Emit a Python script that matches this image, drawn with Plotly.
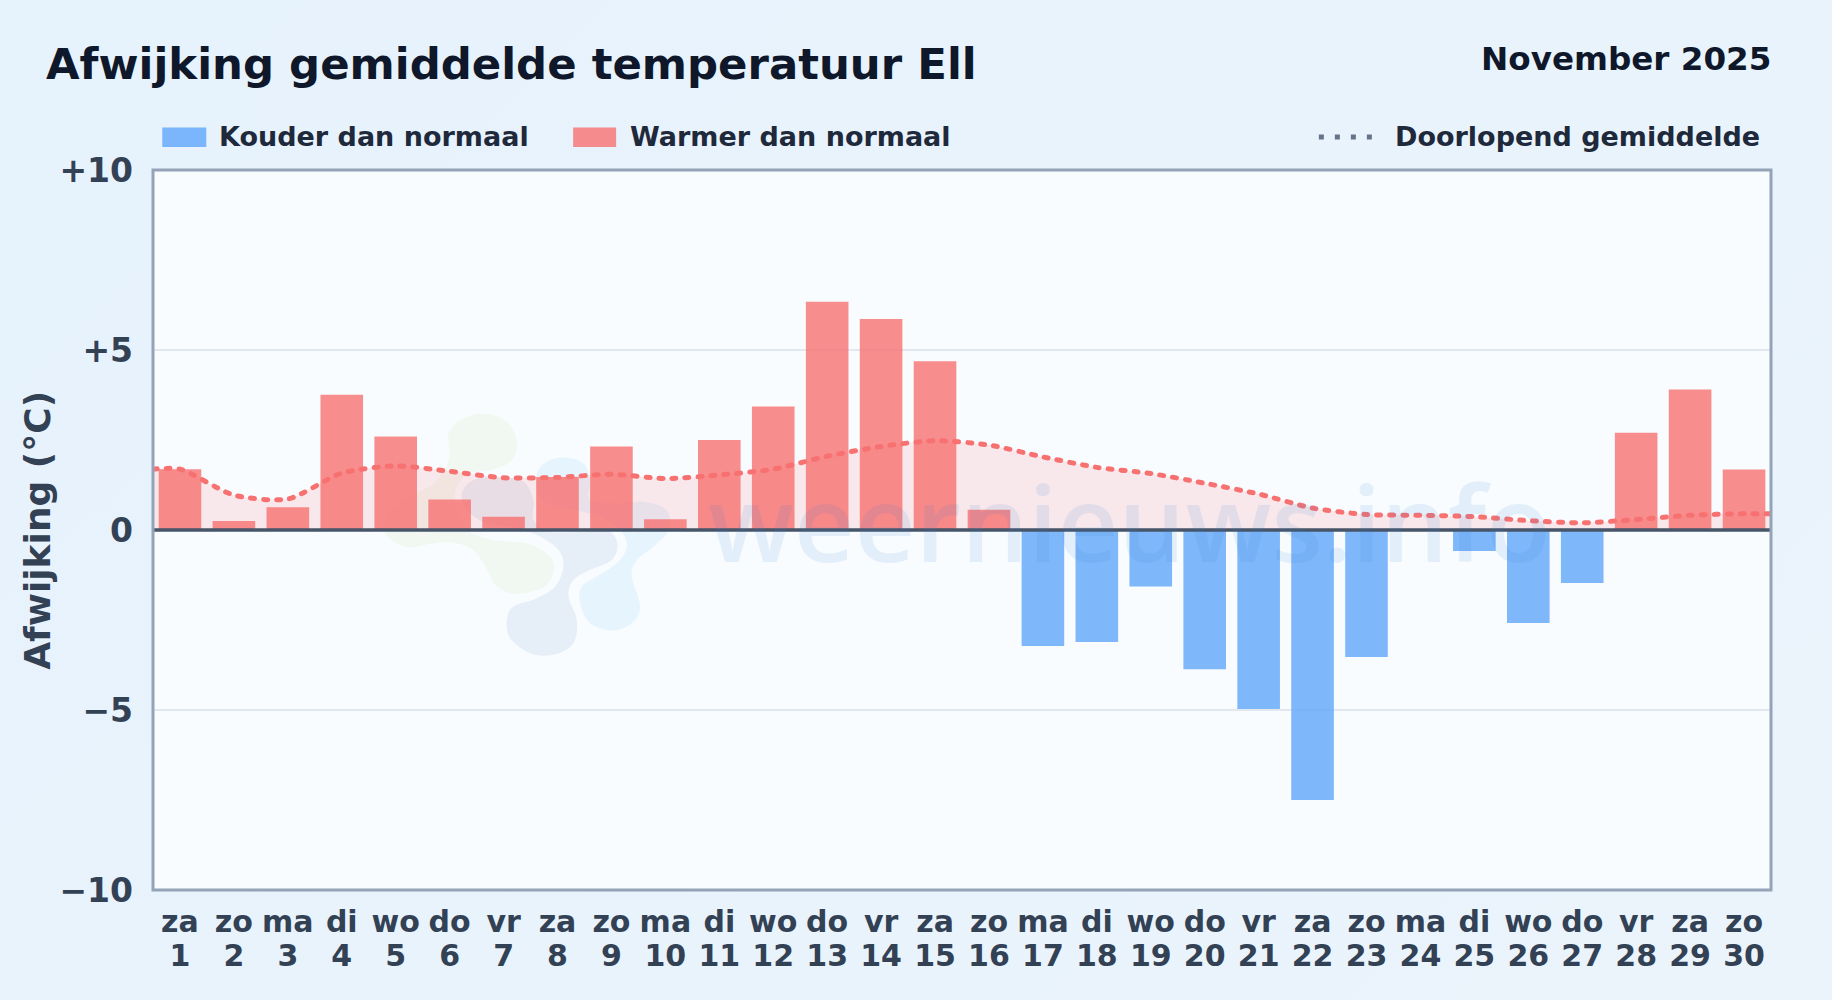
import plotly.graph_objects as go

weekdays = ["za","zo","ma","di","wo","do","vr","za","zo","ma","di","wo","do","vr","za","zo","ma","di","wo","do","vr","za","zo","ma","di","wo","do","vr","za","zo"]
days = list(range(1, 31))
anomaly = [1.69,0.25,0.63,3.76,2.60,0.85,0.37,1.47,2.32,0.30,2.50,3.43,6.34,5.86,4.69,0.56,-3.22,-3.11,-1.57,-3.87,-4.97,-7.50,-3.53,0.0,-0.58,-2.58,-1.47,2.70,3.90,1.68]
running_x = [0.5]+days+[30.5]
running_mean = [1.69,1.69,0.97,0.86,1.58,1.78,1.63,1.45,1.46,1.55,1.43,1.53,1.69,2.05,2.32,2.48,2.36,2.03,1.74,1.57,1.30,1.00,0.61,0.43,0.41,0.37,0.26,0.20,0.29,0.41,0.45,0.45]
ytick_vals = [-10,-5,0,5,10]
ytick_text = ["−10","−5","0","+5","+10"]

RED = "rgba(248,113,113,0.8)"
BLUE = "rgba(96,165,250,0.8)"
FONT = "DejaVu Sans"
L, R, T, B = 152.7, 1771.3, 169.5, 890.5

def xp(x): return (x-L)/(R-L)
def yp(y): return (B-y)/(B-T)

def blob(points):
    pts = [(360+a/3, 390+b/3) for a, b in points]
    n = len(pts)
    d = f"M{xp(pts[0][0]):.5f},{yp(pts[0][1]):.5f}"
    for i in range(n):
        p0, p1, p2, p3 = pts[i-1], pts[i], pts[(i+1)%n], pts[(i+2)%n]
        c1 = (p1[0]+(p2[0]-p0[0])/6, p1[1]+(p2[1]-p0[1])/6)
        c2 = (p2[0]-(p3[0]-p1[0])/6, p2[1]-(p3[1]-p1[1])/6)
        d += f" C{xp(c1[0]):.5f},{yp(c1[1]):.5f} {xp(c2[0]):.5f},{yp(c2[1]):.5f} {xp(p2[0]):.5f},{yp(p2[1]):.5f}"
    return d + " Z"

logo_green = [(265,130),(300,90),(370,70),(440,95),(472,160),(450,215),(390,240),(330,250),(290,290),(285,350),(320,420),(400,450),(500,460),(565,495),(582,535),(555,590),(470,612),(410,590),(375,530),(340,480),(280,458),(210,462),(150,472),(100,455),(72,420),(90,370),(150,320),(220,280),(262,220),(268,170)]
logo_dark = [(305,310),(340,270),(420,262),(490,275),(520,330),(520,390),(570,425),(660,425),(740,420),(772,460),(755,510),(690,540),(640,570),(625,620),(650,690),(640,760),(580,795),(510,790),(450,745),(440,690),(460,650),(530,625),(585,590),(610,530),(595,480),(540,440),(470,415),(380,400),(320,360)]
logo_light = [(535,240),(570,210),(620,202),(670,220),(690,270),(690,330),(770,340),(850,335),(920,360),(925,420),(880,470),(830,510),(815,560),(840,650),(815,700),(755,722),(690,700),(660,640),(665,590),(710,560),(770,520),(800,470),(780,420),(720,380),(640,360),(560,340),(530,290)]

fig = go.Figure()
fig.add_trace(go.Bar(x=days, y=anomaly, width=0.79,
                     marker=dict(color=[RED if v >= 0 else BLUE for v in anomaly], line=dict(width=0)),
                     showlegend=False))
fig.add_trace(go.Scatter(x=running_x, y=running_mean, mode="lines", xaxis="x2",
                         line=dict(color="#f87171", width=5, shape="spline", smoothing=0.7, dash="4px,9px"),
                         fill="tozeroy", fillcolor="rgba(248,113,113,0.14)", showlegend=False))

shapes = [dict(type="path", xref="paper", yref="paper", layer="below", path=blob(p), fillcolor=c, line=dict(width=0))
          for p, c in [(logo_green,"#f1f8f2"),(logo_light,"#e6f4fe"),(logo_dark,"#e6eff8")]]
shapes.append(dict(type="line", xref="paper", yref="y", x0=0, x1=1, y0=0, y1=0, layer="above", line=dict(color="#475569", width=3.5)))
shapes.append(dict(type="rect", xref="paper", yref="paper", x0=0, x1=1, y0=0, y1=1, layer="above", line=dict(color="#94a3b8", width=3)))
shapes += [
    dict(type="rect", xref="paper", yref="paper", x0=xp(162), x1=xp(206), y0=yp(146.5), y1=yp(127), fillcolor=BLUE, line=dict(width=0)),
    dict(type="rect", xref="paper", yref="paper", x0=xp(573), x1=xp(616), y0=yp(146.5), y1=yp(127), fillcolor=RED, line=dict(width=0)),
    dict(type="line", xref="paper", yref="paper", x0=xp(1319), x1=xp(1378), y0=yp(136.5), y1=yp(136.5), line=dict(color="#64748b", width=5, dash="5px,11px")),
]

def label(text, x, y, size, color, anchor="left", angle=0):
    return dict(text=f"<b>{text}</b>", x=xp(x), y=yp(y), xref="paper", yref="paper", xanchor=anchor, yanchor="middle",
                textangle=angle, showarrow=False, font=dict(family=FONT, size=size, color=color))

annotations = [
    dict(text="weernieuws.info", x=xp(706), y=yp(521), xref="paper", yref="paper", xanchor="left", yanchor="middle",
         showarrow=False, opacity=0.1, font=dict(family="Open Sans", size=105.5, weight=600, color="#2f7fd0")),
    label("Afwijking gemiddelde temperatuur Ell", 44, 63.5, 43.4, "#0f172a"),
    label("November 2025", 1773, 58.5, 32.6, "#0f172a", "right"),
    label("Kouder dan normaal", 217, 136, 27, "#1e293b"),
    label("Warmer dan normaal", 628, 136, 27, "#1e293b"),
    label("Doorlopend gemiddelde", 1393, 136, 27, "#1e293b"),
    label("Afwijking (°C)", 36.5, 530, 36, "#334155", "center", -90),
]

tickfont = dict(family=FONT, size=30, color="#334155", weight="bold")
fig.update_layout(
    width=1832, height=1000, autosize=False,
    margin=dict(l=L, r=1832-R, t=T, b=1000-B, pad=0),
    paper_bgcolor="rgba(0,0,0,0)", plot_bgcolor="#f8fcff",
    bargap=0.2, shapes=shapes, annotations=annotations,
    xaxis=dict(range=[0.5,30.5], tickmode="array", tickvals=days, ticktext=weekdays, tickfont=tickfont,
               showgrid=False, zeroline=False, ticks="", showline=False,
               ticklabelstandoff=11, tickangle=0),
    xaxis2=dict(range=[0.5,30.5], overlaying="x", side="bottom", anchor="y", tickmode="array", tickvals=days,
                ticktext=[str(d) for d in days], tickfont=tickfont, showgrid=False, zeroline=False, ticks="",
                showline=False, ticklabelstandoff=45, tickangle=0),
    yaxis=dict(range=[-10,10], tickmode="array", tickvals=ytick_vals, ticktext=ytick_text,
               tickfont=dict(family=FONT, size=33, color="#334155", weight="bold"),
               showgrid=True, gridcolor="#e2e8f0", gridwidth=2, zeroline=False, ticks="", showline=False,
               ticklabelstandoff=19),
)

post = """
document.body.style.margin='0';
document.documentElement.style.overflow='hidden';
document.body.style.background='linear-gradient(135deg,#e6f2fc 0%,#e9f3fc 60%,#ebf4fb 100%)';
var s=document.createElement('style');
s.textContent='.scatterlayer .js-line{stroke-linecap:round}';
document.head.appendChild(s);
"""
fig.write_html("out.html", post_script=post, config={"displayModeBar": False})
